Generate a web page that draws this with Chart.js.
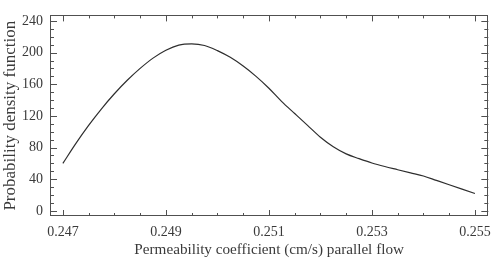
<!DOCTYPE html>
<html>
<head>
<meta charset="utf-8">
<script src="https://cdn.jsdelivr.net/npm/chart.js@4/dist/chart.umd.min.js"></script>
<style>
html,body{margin:0;padding:0;background:#fff;}
#wrap{width:499px;height:261px;position:relative;}
</style>
</head>
<body>
<div id="wrap"><canvas id="c" width="499" height="261"></canvas></div>
<script>
const xValues = [0.247,0.24725,0.2475,0.24775,0.248,0.24825,0.2485,0.24875,0.249,0.24925,0.2495,0.24975,0.250,0.25025,0.2505,0.25075,0.251,0.25125,0.2515,0.25175,0.252,0.25225,0.2525,0.25275,0.253,0.25325,0.2535,0.25375,0.254,0.25425,0.2545,0.25475,0.255];
const pdfValues = [60,85,108,129,148,165,180,193,203,209.5,211,209,202.5,194,183,170,155,138,123,108,93,81,72,66,60.5,56,52,48,44,38.5,33,27.5,22];
const xTickLabels = [0.247,0.249,0.251,0.253,0.255];
const yTickLabels = [0,40,80,120,160,200,240];
const xMinorStep = 0.0005;
const yMinorStep = 10;

const textColor = '#3a3a3a';
const frameColor = '#505050';
const serif = '"Liberation Serif", "Times New Roman", serif';

const tickPlugin = {
  id: 'innerTicks',
  afterDraw(chart) {
    const ctx = chart.ctx;
    const a = chart.chartArea;
    const xs = chart.scales.x, ys = chart.scales.y;
    ctx.save();
    ctx.strokeStyle = frameColor;
    ctx.lineWidth = 1;
    ctx.strokeRect(Math.round(a.left)+0.5, Math.round(a.top)+0.5, Math.round(a.right-a.left)-1, Math.round(a.bottom-a.top)-1);
    ctx.beginPath();
    const x0 = xTickLabels[0], x1 = xTickLabels[xTickLabels.length-1];
    const nX = Math.round((x1 - x0) / xMinorStep);
    for (let i = 0; i <= nX; i++) {
      const v = x0 + i * xMinorStep;
      const px = Math.round(xs.getPixelForValue(v)) + 0.5;
      const major = (i % 4 === 0);
      const len = major ? 6 : 3;
      ctx.moveTo(px, a.bottom); ctx.lineTo(px, a.bottom - len);
      ctx.moveTo(px, a.top); ctx.lineTo(px, a.top + len);
    }
    const y0 = yTickLabels[0], y1 = yTickLabels[yTickLabels.length-1];
    for (let v = y0; v <= y1; v += yMinorStep) {
      const py = Math.round(ys.getPixelForValue(v)) + 0.5;
      const major = (v % 40 === 0);
      const len = major ? 7 : 4;
      ctx.moveTo(a.left, py); ctx.lineTo(a.left + len, py);
      ctx.moveTo(a.right, py); ctx.lineTo(a.right - len, py);
    }
    ctx.stroke();
    ctx.restore();
  }
};

new Chart(document.getElementById('c'), {
  type: 'line',
  data: {
    datasets: [{
      data: xValues.map((x, i) => ({x: x, y: pdfValues[i]})),
      borderColor: '#2e2e2e',
      borderWidth: 1.2,
      pointRadius: 0,
      fill: false,
      cubicInterpolationMode: 'monotone'
    }]
  },
  options: {
    responsive: false,
    animation: false,
    devicePixelRatio: 1,
    layout: { padding: { top: 6, right: 10, left: 0, bottom: 0 } },
    plugins: { legend: { display: false }, tooltip: { enabled: false } },
    scales: {
      x: {
        type: 'linear',
        min: 0.24675,
        max: 0.25526,
        afterBuildTicks(scale) { scale.ticks = xTickLabels.map(v => ({value: v})); },
        afterFit(scale) { scale.height = 45; },
        grid: { display: false, drawTicks: false },
        border: { display: false },
        ticks: {
          color: textColor,
          padding: 8,
          maxRotation: 0,
          autoSkip: false,
          font: { family: serif, size: 14 },
          callback: (v) => Number(v).toFixed(3)
        },
        title: {
          display: true,
          text: 'Permeability coefficient (cm/s) parallel flow',
          color: textColor,
          padding: { top: 0, bottom: 2 },
          font: { family: serif, size: 15.2 }
        }
      },
      y: {
        type: 'linear',
        min: -6.5,
        max: 247,
        afterBuildTicks(scale) { scale.ticks = yTickLabels.map(v => ({value: v})); },
        afterFit(scale) { scale.width = 50; },
        grid: { display: false, drawTicks: false },
        border: { display: false },
        ticks: {
          color: textColor,
          padding: 7,
          autoSkip: false,
          font: { family: serif, size: 14 }
        },
        title: {
          display: true,
          text: 'Probability density function',
          color: textColor,
          padding: { top: 0, bottom: 0 },
          font: { family: serif, size: 17 }
        }
      }
    }
  },
  plugins: [tickPlugin]
});
</script>
</body>
</html>
